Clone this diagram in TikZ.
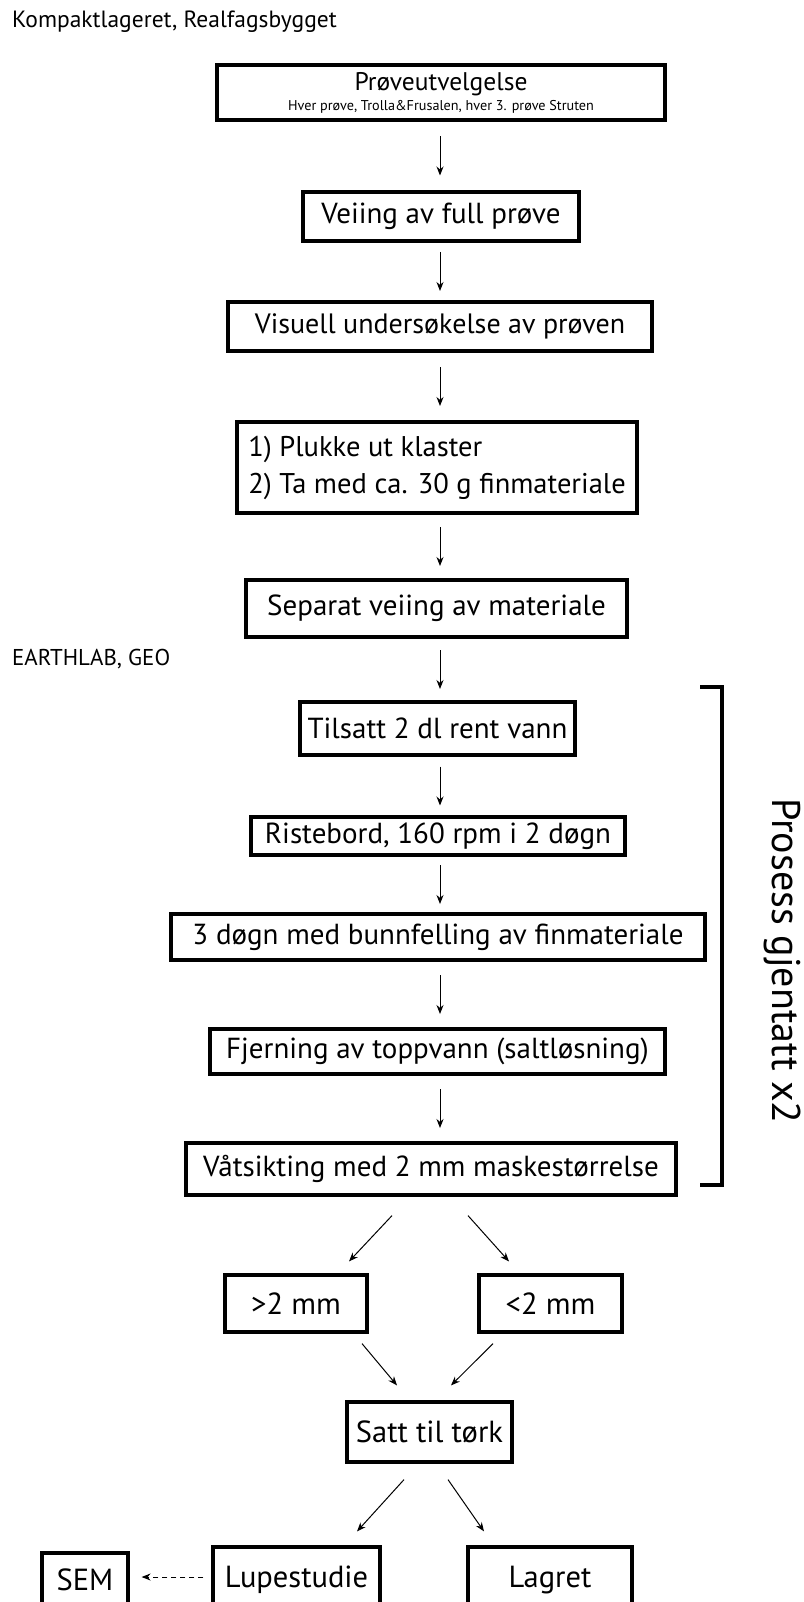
\documentclass[tikz,border=0pt]{standalone}
\usepackage{fontspec}
\setmainfont{PT Sans}
\usetikzlibrary{calc,arrows.meta}
\newcommand\vlink[2]{%
  \path ($(#1.south)!0.5!(#2.north)$) coordinate (mm);
  \path (ax |- mm) coordinate (m);
  \draw[arr] ([yshift=19.5pt]m) -- ([yshift=-19.5pt]m);}
\begin{document}
\begin{tikzpicture}[x=1pt,y=-1pt,
  box/.style={draw,line width=3.2pt,inner sep=0pt,align=center,font=\fontsize{29}{37}\selectfont},
  bigbox/.style={box,font=\fontsize{30.5}{37}\selectfont},
  arr/.style={-{Stealth[length=9pt,width=7pt]},line width=1pt},
  lbl/.style={inner sep=0pt,anchor=base west}]
\useasboundingbox[fill=white] (0,0) rectangle (803,1602);
\coordinate (ax) at (440,0);

\node[lbl,font=\fontsize{23.5}{26}\selectfont] (t1) at (12,28) {Kompaktlageret, Realfagsbygget};
\node[lbl,font=\fontsize{22.9}{26}\selectfont] (t2) at (12,665) {EARTHLAB, GEO};

\node[box,minimum width=448pt,minimum height=55pt,font=\fontsize{25.5}{20}\selectfont] (b1) at (441,92.5)
  {Prøveutvelgelse\\{\fontsize{14.2}{20}\selectfont Hver prøve, Trolla\&Frusalen, hver 3. prøve Struten}};
\node[box,minimum width=276pt,minimum height=49pt] (b2) at (441,216.5) {Veiing av full prøve};
\node[box,minimum width=424pt,minimum height=49pt,font=\fontsize{28}{37}\selectfont] (b3) at (440,326.5) {Visuell undersøkelse av prøven};
\node[box,minimum width=400pt,minimum height=91pt,align=left,font=\fontsize{28.5}{37}\selectfont] (b4) at (437,467.5) {1) Plukke ut klaster\\2) Ta med ca. 30 g finmateriale};
\node[box,minimum width=381pt,minimum height=57pt] (b5) at (436.5,608.5) {Separat veiing av materiale};
\node[box,minimum width=275pt,minimum height=53pt] (b6) at (437.5,728.5) {Tilsatt 2 dl rent vann};
\node[box,minimum width=374pt,minimum height=38pt] (b7) at (438,836) {Ristebord, 160 rpm i 2 døgn};
\node[box,minimum width=534pt,minimum height=46pt] (b8) at (438,937) {3 døgn med bunnfelling av finmateriale};
\node[box,minimum width=455pt,minimum height=45pt] (b9) at (437.5,1051.5) {Fjerning av toppvann (saltløsning)};
\node[box,minimum width=490pt,minimum height=52pt] (b10) at (431,1169) {Våtsikting med 2 mm maskestørrelse};

\node[bigbox,minimum width=142pt,minimum height=57pt] (gt) at (296,1303.5) {>2 mm};
\node[bigbox,minimum width=143pt,minimum height=57pt] (lt) at (550.5,1303.5) {<2 mm};
\node[bigbox,minimum width=165pt,minimum height=60pt] (satt) at (429.5,1432) {Satt til tørk};
\node[bigbox,minimum width=167pt,minimum height=66pt] (lupe) at (296.5,1580) {Lupestudie};
\node[bigbox,minimum width=86pt,minimum height=54pt] (sem) at (85,1580) {SEM};
\node[bigbox,minimum width=164pt,minimum height=66pt] (lagret) at (550,1580) {Lagret};

\vlink{b1}{b2}
\vlink{b2}{b3}
\vlink{b3}{b4}
\vlink{b4}{b5}
\vlink{b5}{b6}
\vlink{b6}{b7}
\vlink{b7}{b8}
\vlink{b8}{b9}
\vlink{b9}{b10}

\draw[arr] ($(b10.south)+(-39,19)$) -- ($(gt.north)+(53,-12)$);
\draw[arr] ($(b10.south)+(37,19)$) -- ($(lt.north)+(-41.5,-12)$);
\draw[arr] ($(gt.south)+(66,10)$) -- ($(satt.north)+(-32.5,-15)$);
\draw[arr] ($(lt.south)+(-57.5,10)$) -- ($(satt.north)+(21.5,-15)$);
\draw[arr] ($(satt.south)+(-25.5,16)$) -- ($(lupe.north)+(60.5,-14)$);
\draw[arr] ($(satt.south)+(18.5,16)$) -- ($(lagret.north)+(-66,-14)$);
\draw[arr,dash pattern=on 5pt off 4pt] ($(lupe.west)+(-8,-3)$) -- ($(sem.east |- lupe.west)+(12,-3)$);

\draw[line width=3.5pt] (700,687) -- (722,687) -- (722,1185) -- (700,1185);
\node[rotate=-90,inner sep=0pt,font=\fontsize{40}{44}\selectfont] (rep) at (782,961) {Prosess gjentatt x2};
\end{tikzpicture}
\end{document}
